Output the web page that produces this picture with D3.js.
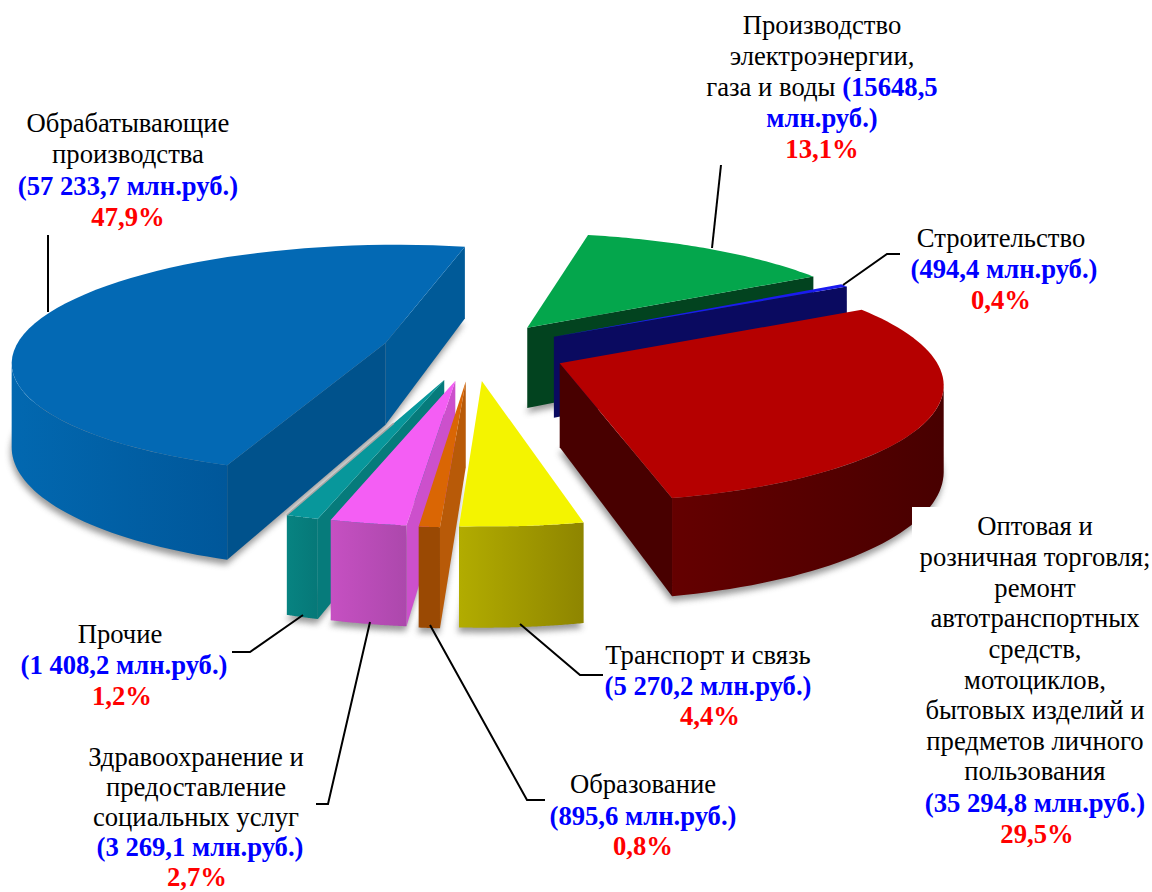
<!DOCTYPE html>
<html lang="ru">
<head>
<meta charset="UTF-8">
<title>Структура</title>
<script src="https://d3js.org/d3.v7.min.js"></script>
<style>
  body { margin: 0; background: #fff; }
  svg { display: block; }
  text { font-family: "Liberation Serif", serif; font-size: 26.67px; text-anchor: middle; fill: #000; }
  .amount { font-weight: bold; fill: #0000ff; }
  .share { font-weight: bold; fill: #ff0000; }
  .leader { fill: none; stroke: #000; stroke-width: 2; }
</style>
</head>
<body>
<div id="chart"></div>
<script>
// paint order of the pie is clockwise from the big blue slice
const categories = ["Обрабатывающие производства", "Производство электроэнергии, газа и воды", "Строительство",
  "Оптовая и розничная торговля", "Транспорт и связь", "Образование", "Здравоохранение", "Прочие"];
const values = [57233.7, 15648.5, 494.4, 35294.8, 5270.2, 895.6, 3269.1, 1408.2];
const amounts = ["(57 233,7 млн.руб.)", "(15648,5", "(494,4 млн.руб.)", "(35 294,8 млн.руб.)",
  "(5 270,2 млн.руб.)", "(895,6 млн.руб.)", "(3 269,1 млн.руб.)", "(1 408,2 млн.руб.)"];
const shares = ["47,9%", "13,1%", "0,4%", "29,5%", "4,4%", "0,8%", "2,7%", "1,2%"];
const nameLines = [
  ["Обрабатывающие", "производства"],
  ["Производство", "электроэнергии,", "газа и воды"],
  ["Строительство"],
  ["Оптовая и", "розничная торговля;", "ремонт", "автотранспортных", "средств,", "мотоциклов,",
   "бытовых изделий и", "предметов личного", "пользования"],
  ["Транспорт и связь"],
  ["Образование"],
  ["Здравоохранение и", "предоставление", "социальных услуг"],
  ["Прочие"]
];

// projection fitted to the picture
const cx = 470.2, cy = 349.8, tilt = 0.308, camera = 2553, radius = 371.2, depth = 82.5;
const startDeg = -160.07;

// explode offset of each slice in the pie plane, then colours
const explode = [[-85.4, -22.3], [58.7, -73.7], [85.1, -43.3], [88, 43], [11.2, 97.5], [-4.3, 99.2], [-14.3, 96.7], [-25, 94.3]];
const topColor = ["#0369b4", "#04a64c", "#1a1af0", "#b50000", "#f4f400", "#da6604", "#f45ef4", "#08979b"];
const wallColor = [["#0268b0", "#00579a"], ["#02431f", "#02431f"], ["#0a0a60", "#0a0a60"], ["#640000", "#480000"],
  ["#b2ac00", "#8e8500"], ["#9a4903", "#9a4903"], ["#c650c2", "#ac48ac"], ["#078381", "#067878"]];
const startWall = ["#00528c", "#02431f", "#0a0a60", "#480000", "#8e8500", "#b85a08", "#cc50cc", "#067b7b"];
const endWall = ["#005a98", "#02431f", "#0a0a60", "#480000", "#8e8500", "#9a4903", "#ac48ac", "#067878"];
const paintOrder = [0, 1, 2, 3, 7, 6, 5, 4];

const svg = d3.select("#chart").append("svg").attr("width", 1152).attr("height", 892);
const defs = svg.append("defs");
defs.append("filter").attr("id", "soft")
  .attr("filterUnits", "userSpaceOnUse").attr("x", 0).attr("y", 0).attr("width", 1152).attr("height", 892)
  .append("feGaussianBlur").attr("stdDeviation", 3);

const a0 = startDeg * Math.PI / 180;
const arcs = d3.pie().sort(null).startAngle(a0).endAngle(a0 + 2 * Math.PI)(values);
const line = d3.line();
const nearLimit = 70 * Math.PI / 180;

function project(X, Y, Z) {
  const s = camera / (camera - Y);
  return [cx + s * X, cy + s * (tilt * Y - Z)];
}

function rim(i, a, Z) {
  const [ex, ey] = explode[i];
  return project(ex + radius * Math.sin(a), ey - radius * Math.cos(a), Z);
}

function rimPoints(i, from, to, Z) {
  return d3.range(0, 61).map(j => rim(i, from + (to - from) * j / 60, Z));
}

paintOrder.forEach(i => {
  const d = arcs[i];
  const [ex, ey] = explode[i];
  const apex = project(ex, ey, 0), apexLow = project(ex, ey, -depth);
  const g = svg.append("g");
  const first = rim(i, d.startAngle, 0), last = rim(i, d.endAngle, 0);

  // soft shadow under the slice
  g.append("path")
    .attr("d", line([apexLow, ...rimPoints(i, d.startAngle, d.endAngle, -depth)]) + "Z")
    .attr("transform", "translate(-1,5)")
    .attr("fill", "#777").attr("opacity", 0.75).attr("filter", "url(#soft)");

  // radial walls, only the ones turned to the viewer
  if (first[0] < apex[0]) {
    g.append("path")
      .attr("d", line([apex, first, rim(i, d.startAngle, -depth), apexLow]) + "Z")
      .attr("fill", startWall[i]);
  }
  if (last[0] > apex[0]) {
    g.append("path")
      .attr("d", line([apex, last, rim(i, d.endAngle, -depth), apexLow]) + "Z")
      .attr("fill", endWall[i]);
  }

  // outer wall: the near side of the rim, cut at the silhouette so the polygon does not fold over
  const left = [d.startAngle, Math.min(d.endAngle, -nearLimit)];
  const right = [Math.max(d.startAngle, nearLimit), d.endAngle];
  [left, right].forEach((r, side) => {
    if (r[1] <= r[0]) return;
    let up = rimPoints(i, r[0], r[1], 0), low = rimPoints(i, r[0], r[1], -depth);
    if (side === 0) {
      const k = d3.leastIndex(up, (p, q) => p[0] - q[0]);
      up = up.slice(0, k + 1); low = low.slice(0, k + 1);
    } else {
      const k = d3.leastIndex(up, (p, q) => q[0] - p[0]);
      up = up.slice(k); low = low.slice(k);
    }
    const xs = d3.extent(up.concat(low), p => p[0]);
    const id = `wall${i}`;
    const grad = defs.append("linearGradient").attr("id", id)
      .attr("gradientUnits", "userSpaceOnUse")
      .attr("x1", xs[0]).attr("x2", xs[1]).attr("y1", 0).attr("y2", 0);
    grad.append("stop").attr("offset", 0).attr("stop-color", wallColor[i][0]);
    grad.append("stop").attr("offset", 1).attr("stop-color", wallColor[i][1]);
    g.append("path")
      .attr("d", line(up.concat(low.slice().reverse())) + "Z")
      .attr("fill", `url(#${id})`);
  });

  g.append("path")
    .attr("d", line([apex, ...rimPoints(i, d.startAngle, d.endAngle, 0)]) + "Z")
    .attr("fill", topColor[i]);

  // the teal slice throws a thin grey edge on the blue wall behind it
  if (i === 7) {
    g.append("path")
      .attr("d", line([last, d3.interpolate(last, apex)(0.68)]))
      .attr("stroke", "#a8a8a8").attr("stroke-width", 1.5).attr("fill", "none");
  }
});

// white label box that clips the red wall in the source picture
svg.append("rect").attr("x", 912).attr("y", 507).attr("width", 240).attr("height", 385).attr("fill", "#fff");

// leader lines
const leaders = [
  [[48, 235], [48, 312]],
  [[721, 165], [712, 248]],
  [[843, 285], [887, 254], [900, 254]],
  [[520, 624], [580, 675], [603, 675]],
  [[430, 625], [527, 800], [545, 800]],
  [[370, 622], [328, 804], [316, 804]],
  [[303, 615], [250, 652], [232, 652]]
];
svg.selectAll(".leader").data(leaders).enter().append("path")
  .attr("class", "leader").attr("d", d => line(d));

// label anchors: centre x and the baseline of each line, names first
const labelX = [128, 822, 1001, 1035, 708, 643, 196, 120];
const labelY = [
  [132, 163, 195, 226],
  [34, 65, 96, 127, 158],
  [247, 278, 309],
  [535, 566, 597, 627, 658, 689, 719, 750, 780, 812, 843],
  [664, 695, 725],
  [793, 825, 855],
  [766, 796, 826, 856, 886],
  [643, 674, 705]
];
const amountDx = [0, 0, 3, 0, 0, 0, 4, 4];
const shareDx = [0, 0, 0, 2, 2, 0, 1, 2];

categories.forEach((c, i) => {
  const names = nameLines[i];
  const ys = labelY[i];
  names.forEach((t, j) => {
    const el = svg.append("text").attr("x", labelX[i]).attr("y", ys[j]).text(t);
    if (i === 1 && j === 2) {
      el.text(t + " ");
      el.append("tspan").attr("class", "amount").text(amounts[i]);
    }
  });
  if (i === 1) {
    svg.append("text").attr("class", "amount").attr("x", labelX[i]).attr("y", ys[3]).text("млн.руб.)");
    svg.append("text").attr("class", "share").attr("x", labelX[i]).attr("y", ys[4]).text(shares[i]);
  } else {
    svg.append("text").attr("class", "amount").attr("x", labelX[i] + amountDx[i]).attr("y", ys[names.length]).text(amounts[i]);
    svg.append("text").attr("class", "share").attr("x", labelX[i] + shareDx[i]).attr("y", ys[names.length + 1]).text(shares[i]);
  }
});
</script>
</body>
</html>
